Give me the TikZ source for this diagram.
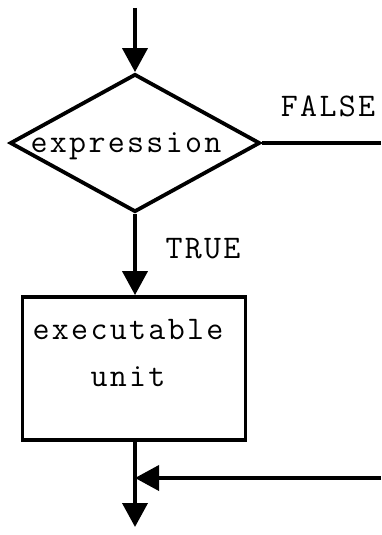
\documentclass[tikz,border=0pt]{standalone}
\usepackage{fontspec}
\newfontfamily\twfont[LetterSpace=7]{Latin Modern Mono}
\usetikzlibrary{shapes.geometric,arrows.meta}
\begin{document}
\begin{tikzpicture}[x=1pt,y=1pt,
  line width=3.8pt,
  every node/.style={font=\twfont\fontsize{33}{47}\selectfont, inner sep=0pt},
  arr/.style={-{Triangle[length=24pt,width=25pt]}},
  dshape/.style={draw, diamond, aspect=1.81, minimum width=250pt, minimum height=138pt},
  boxshape/.style={draw, rectangle, minimum width=223pt, minimum height=143pt},
  lbl/.style={}]
\useasboundingbox (0,0) rectangle (381,-535);
\coordinate (top) at (135,-8);
\node[dshape] (d) at (135,-143) {};
\node[lbl] (dtxt) at (126,-146) {expression};
\node[lbl, align=center] (btxt) at (128,-353) {executable\\unit};
\node[boxshape] (b) at (134,-368.5) {};
\coordinate (r1) at (381,-143);
\coordinate (r2) at (381,-478);
\coordinate (m) at (135,-478);
\coordinate (end) at (135,-527);
\node[lbl] (false) at (328,-106) {FALSE};
\node[lbl] (true) at (203,-249) {TRUE};
\draw[arr] (top) -- (d.north);
\draw (d.east) -- (r1);
\draw[arr] (d.south) -- (b.north -| d.south);
\draw[arr] (b.south -| m) -- (end);
\draw[arr] (r2) -- (m);
\end{tikzpicture}
\end{document}
